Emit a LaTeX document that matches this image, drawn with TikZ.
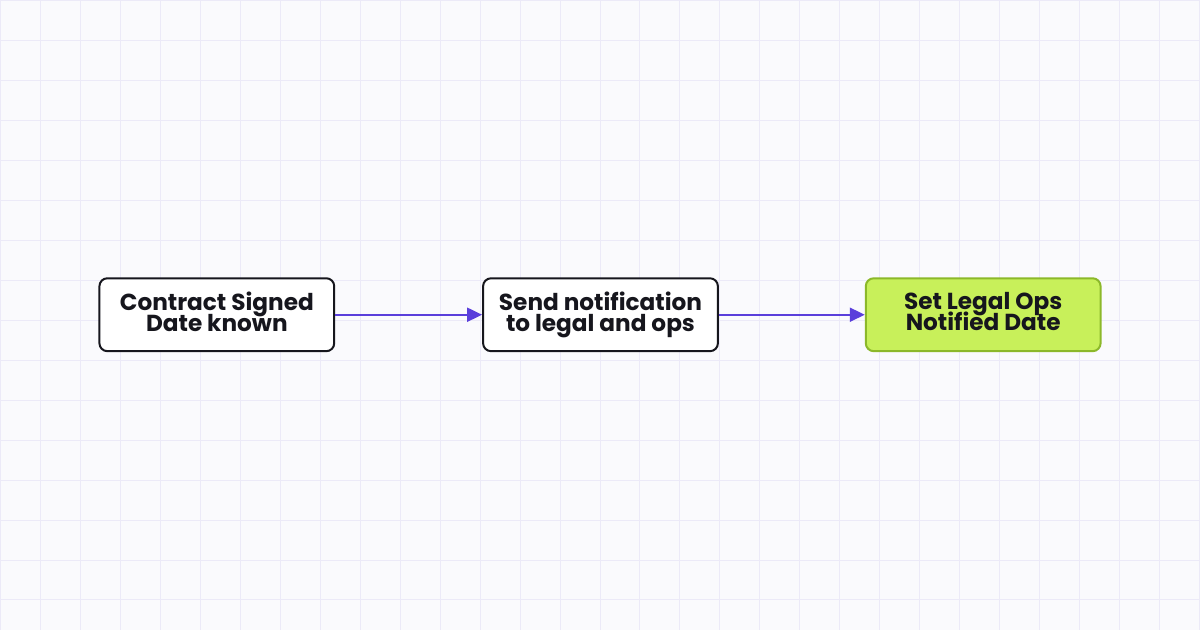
\documentclass[tikz,border=0pt]{standalone}
\usepackage{fontspec}
\setmainfont{Poppins}[UprightFont=* SemiBold,BoldFont=* Bold]
\usetikzlibrary{positioning,arrows.meta}
\definecolor{paper}{HTML}{FAFAFD}
\definecolor{gridline}{HTML}{ECEAF8}
\definecolor{flowarrow}{HTML}{5A3FDB}
\definecolor{donefill}{HTML}{C8F05A}
\definecolor{doneedge}{HTML}{8CB82A}
\definecolor{ink}{HTML}{16161D}
\newcommand\boxfont{\fontsize{23.2}{21}\selectfont\bfseries\lineskiplimit=-20pt\relax}
\newcommand\fixline{\vphantom{dOg}}
\begin{document}
\begin{tikzpicture}[x=1pt,y=1pt]
	\tikzstyle{stepbox}=[draw=ink, fill=white, line width=2pt, rounded corners=8pt,
		minimum width=235pt, minimum height=73pt, align=center, text=ink, font=\boxfont]
	\tikzstyle{donebox}=[stepbox, draw=doneedge, fill=donefill]
	\tikzstyle{flow}=[draw=flowarrow, line width=2pt, -{Triangle[length=15pt,width=14pt]}]
	% background and grid
	\fill[paper] (0,0) rectangle (1200,630);
	\foreach \gx in {0,40,...,1200}
		\draw[gridline, line width=1pt] (\gx,0) -- (\gx,630);
	\foreach \gy in {30,70,...,630}
		\draw[gridline, line width=1pt] (0,\gy) -- (1200,\gy);
	\node[stepbox]	(signed)	at (216.5,315.5)	{\fixline Contract Signed\\Date known\fixline};
	\node[stepbox, right=147pt of signed]	(notify)	{\fixline Send notification\\to legal and ops\fixline};
	\node[donebox, right=146pt of notify]	(legalops)	{\fixline Set Legal Ops\\Notified Date\fixline};
	\draw[flow] (signed) -- (notify);
	\draw[flow] (notify) -- (legalops);
\end{tikzpicture}
\end{document}
